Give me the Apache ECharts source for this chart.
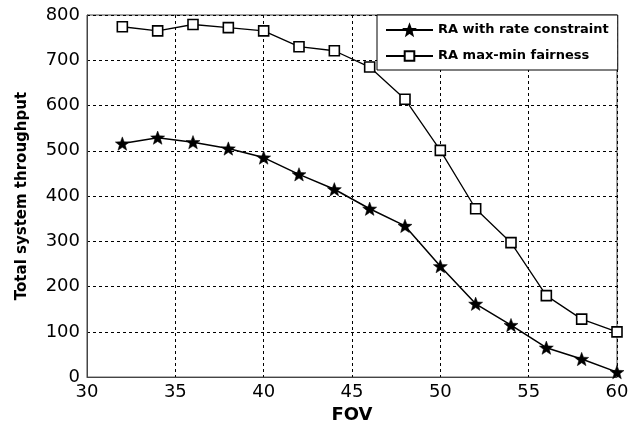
<!DOCTYPE html>
<html>
<head>
<meta charset="utf-8">
<script src="https://cdn.jsdelivr.net/npm/echarts@6/dist/echarts.min.js"></script>
<style>
  html, body { margin: 0; padding: 0; background: #fff; }
  #chart { width: 643px; height: 429px; }
</style>
</head>
<body>
<div id="chart"></div>
<script>
// Field of view (degrees) sampled for both allocation schemes
const fov = [32, 34, 36, 38, 40, 42, 44, 46, 48, 50, 52, 54, 56, 58, 60];

// Total system throughput per scheme
const rateConstraint = [516, 529, 519, 505, 485, 448, 415, 372, 334, 245, 162, 115, 65, 40, 11];
const maxMinFairness = [774, 765, 779, 772, 765, 730, 721, 685, 614, 501, 372, 297, 180, 128, 100];

const seriesNames = ['RA with rate constraint', 'RA max-min fairness'];
const xTicks = [30, 35, 40, 45, 50, 55, 60];
const yTicks = [0, 100, 200, 300, 400, 500, 600, 700, 800];

const STAR = 'path://M10 0 L12.47 6.6 L19.51 6.91 L13.99 11.3 L15.88 18.09 L10 14.2 L4.12 18.09 L6.01 11.3 L0.49 6.91 L7.53 6.6 Z';

const tickFont = { fontFamily: 'DejaVu Sans', fontSize: 18, color: '#000' };
const nameFont = { fontFamily: 'DejaVu Sans', fontWeight: 'bold', color: '#000' };
const gridDash = { show: true, lineStyle: { color: '#000', width: 1, type: [3, 3] } };

const pairs = (ys) => fov.map((x, i) => [x, ys[i]]);

const chart = echarts.init(document.getElementById('chart'), null, { renderer: 'canvas' });
chart.setOption({
  animation: false,
  backgroundColor: '#fff',
  grid: {
    left: 87, right: 26, top: 15, bottom: 45,
    show: true, borderColor: '#444', borderWidth: 1, backgroundColor: 'transparent'
  },
  xAxis: {
    type: 'value',
    min: xTicks[0], max: xTicks[xTicks.length - 1], interval: xTicks[1] - xTicks[0],
    name: 'FOV', nameLocation: 'middle', nameGap: 27,
    nameTextStyle: Object.assign({ fontSize: 18 }, nameFont),
    axisLine: { show: true, lineStyle: { color: '#444', width: 1 } },
    axisTick: { show: false },
    axisLabel: Object.assign({ margin: 6 }, tickFont),
    splitLine: gridDash
  },
  yAxis: {
    type: 'value',
    min: yTicks[0], max: yTicks[yTicks.length - 1], interval: yTicks[1] - yTicks[0],
    name: 'Total system throughput', nameLocation: 'middle', nameGap: 57, nameRotate: 90,
    nameTextStyle: Object.assign({ fontSize: 15 }, nameFont),
    axisLine: { show: true, lineStyle: { color: '#444', width: 1 } },
    axisTick: { show: false },
    axisLabel: Object.assign({ margin: 7 }, tickFont),
    splitLine: gridDash
  },
  legend: {
    orient: 'vertical',
    left: 377, top: 15,
    padding: [7, 9, 6, 8],
    itemGap: 10,
    itemWidth: 47, itemHeight: 12,
    backgroundColor: '#fff',
    borderColor: '#000', borderWidth: 1, borderRadius: 0,
    textStyle: { fontFamily: 'DejaVu Sans', fontWeight: 'bold', fontSize: 13, color: '#000', lineHeight: 16, padding: [0, 0, 0, 0] },
    data: seriesNames,
    z: 10
  },
  series: [
    {
      name: seriesNames[0],
      type: 'line',
      data: pairs(rateConstraint),
      symbol: STAR,
      symbolSize: 14,
      symbolKeepAspect: true,
      lineStyle: { color: '#000', width: 1.5 },
      itemStyle: { color: '#000', borderColor: '#000', borderWidth: 0.5 },
      z: 3
    },
    {
      name: seriesNames[1],
      type: 'line',
      data: pairs(maxMinFairness),
      symbol: 'rect',
      symbolSize: 10,
      lineStyle: { color: '#000', width: 1.3 },
      itemStyle: { color: '#fff', borderColor: '#000', borderWidth: 1.6 },
      z: 3
    }
  ]
});
</script>
</body>
</html>
